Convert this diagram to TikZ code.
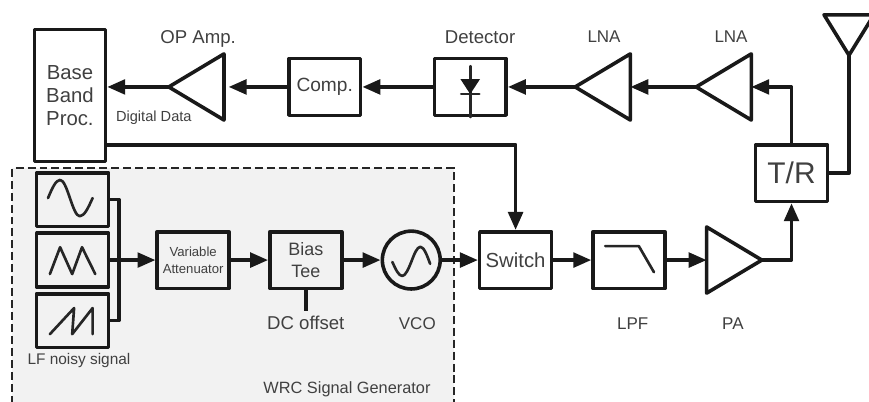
\documentclass[tikz,border=0pt]{standalone}
\usepackage{fontspec}
\setmainfont{Liberation Sans}
\usetikzlibrary{arrows.meta,shapes.geometric}

\begin{document}
\begin{tikzpicture}[>={Triangle[length=13.5pt,width=11pt]}, node distance = 2cm]
    \tikzstyle{block}=[draw=black!90,line width=2.7pt,line join=round,shape=rectangle,inner sep=0pt,minimum width=1.9cm,minimum height=1.5cm,text=black!75,align=center];
    \tikzstyle{amp}=[draw=black!90,line width=2.7pt,line join=round,shape=isosceles triangle,isosceles triangle stretches,shape border rotate=180,inner sep=0pt,outer sep=0pt,minimum width=1.75cm,minimum height=1.46cm];
    \tikzstyle{lab}=[text=black!75,inner sep=0pt,font=\fontsize{14}{16}\selectfont];
    \tikzstyle{wire}=[draw=black!90,line width=2.7pt,line join=round];
    \tikzstyle{wave}=[draw=black!85,line width=2pt,line cap=round,line join=round];

    \clip (0,0) rectangle (22.99,-10.61);

    % generator area, open at the bottom
    \path[fill=black!5] (0.32,-11) |- (12.01,-4.45) -- (12.01,-11) -- cycle;
    \draw[black!85,line width=1.7pt,dash pattern=on 6pt off 3pt] (0.32,-11) |- (12.01,-4.45) -- (12.01,-11);

    % receive chain
    \node[block,minimum width=1.88cm,minimum height=3.49cm,font=\fontsize{15.3}{17.6}\selectfont] (bbp) at (1.85,-2.53) {Base\\Band\\Proc.};
    \node[block,font=\fontsize{14.4}{16}\selectfont] (comp) at (8.59,-2.30) {Comp.};
    \node[amp] (opamp) [left of=comp,node distance=3.16cm] {};
    \node[block] (det) [right of=comp,node distance=3.85cm] {};
    \node[amp] (lna1) [right of=det,node distance=3.74cm] {};
    \node[amp] (lna2) [right of=lna1,node distance=3.2cm] {};

    % transmit chain
    \node[block,font=\fontsize{9.9}{12.5}\selectfont] (atten) at (5.11,-6.88) {Variable\\Attenuator};
    \node[block,font=\fontsize{13.5}{17}\selectfont] (bias) [right of=atten,node distance=2.98cm] {Bias\\Tee};
    \node[draw=black!90,line width=2.7pt,shape=circle,inner sep=0pt,minimum size=1.53cm] (vco) [right of=bias,node distance=2.79cm] {};
    \node[block,font=\fontsize{15.3}{17}\selectfont] (sw) [right of=vco,node distance=2.76cm] {Switch};
    \node[block] (lpf) [right of=sw,node distance=3cm] {};
    \node[amp,shape border rotate=0] (pa) [right of=lpf,node distance=2.55cm] {};
    \node[block,font=\fontsize{22.5}{24}\selectfont] (tr) at (20.94,-4.58) {T/R};
    \node[amp,shape border rotate=270,minimum width=1.32cm,minimum height=1.07cm] (ant) at (22.46,-0.76) {};

    % low frequency sources
    \node[block,minimum height=1.42cm] (tri) [left of=atten,node distance=3.19cm] {};
    \node[block,minimum height=1.42cm] (sine) [above of=tri,node distance=1.6cm] {};
    \node[block,minimum height=1.42cm] (saw) [below of=tri,node distance=1.6cm] {};
    \coordinate (bus) at (3.15,-6.88);
    \coordinate (bbpout) at ([yshift=-1.3cm]bbp.east);
    \coordinate (dcend) at ([yshift=-0.56cm]bias.south);

    % labels
    \node[lab] (lopamp) [above of=opamp,node distance=1.27cm,xshift=-0.19cm] {OP Amp.};
    \node[lab] (ldet) [above of=det,node distance=1.32cm,xshift=0.26cm] {Detector};
    \node[lab,font=\fontsize{12.8}{14}\selectfont] (llna1) [above of=lna1,node distance=1.32cm,xshift=-0.2cm] {LNA};
    \node[lab,font=\fontsize{12.8}{14}\selectfont] (llna2) [above of=lna2,node distance=1.32cm,xshift=-0.04cm] {LNA};
    \node[lab,font=\fontsize{11}{13}\selectfont] (ldata) at (4.07,-3.12) {Digital Data};
    \node[lab,font=\fontsize{11.6}{13}\selectfont] (lnoise) [below of=saw,node distance=1.07cm,xshift=0.17cm] {LF noisy signal};
    \node[lab] (ldc) [below of=bias,node distance=1.67cm] {DC offset};
    \node[lab,font=\fontsize{12.8}{14}\selectfont] (lvco) [below of=vco,node distance=1.67cm,xshift=0.16cm] {VCO};
    \node[lab,font=\fontsize{12.8}{14}\selectfont] (llpf) [below of=lpf,node distance=1.67cm,xshift=0.1cm] {LPF};
    \node[lab,font=\fontsize{12.8}{14}\selectfont] (lpa) [below of=pa,node distance=1.67cm,xshift=0.2cm] {PA};
    \node[lab,font=\fontsize{12.3}{14}\selectfont] (lwrc) at (9.18,-10.29) {WRC Signal Generator};

    % connections
    \draw[wire,->] (opamp.apex) -- (bbp.east |- opamp.apex);
    \draw[wire,->,shorten >=3.5pt] (comp) -- (opamp);
    \draw[wire,->] (det) -- (comp);
    \draw[wire,->] (lna1) -- (det);
    \draw[wire,->] (lna2) -- (lna1);
    \draw[wire,->] (tr.north) |- (lna2);
    \draw[wire] (ant.apex) |- (tr.east);
    \draw[wire,->] (pa.apex) -| (tr.south);
    \draw[wire,->] (bbpout) -| (sw.north);
    \draw[wire,->] (atten) -- (bias);
    \draw[wire,->] (bias) -- (vco);
    \draw[wire,->] (vco) -- (sw);
    \draw[wire,->] (sw) -- (lpf);
    \draw[wire,->] (lpf) -- (pa);
    \draw[wire] (bias.south) -- (dcend);
    \draw[wire] (sine.east) -- (sine -| bus) -- (saw -| bus) -- (saw.east);
    \draw[wire,->] (tri.east) -- (atten);

    % symbols in the boxes
    \draw[wave] ([shift={(-0.65,0.04)}]sine.center) sin ++(0.32,0.48) cos ++(0.26,-0.48) sin ++(0.26,-0.48) cos ++(0.34,0.48);
    \draw[wave] ([shift={(-0.6,-0.37)}]tri.center) -- ++(0.27,0.71) -- ++(0.32,-0.71) -- ++(0.26,0.71) -- ++(0.35,-0.71);
    \draw[wave] ([shift={(-0.6,-0.36)}]saw.center) -- ++(0.64,0.69) -- ++(-0.05,-0.69) -- ++(0.54,0.69) -- ++(0,-0.69);
    \draw[wave] ([shift={(-0.5,-0.05)}]vco.center) sin ++(0.26,-0.37) cos ++(0.24,0.37) sin ++(0.24,0.4) cos ++(0.26,-0.45);
    \draw[wave] ([shift={(-0.63,0.37)}]lpf.center) -- ++(0.89,0) -- ++(0.4,-0.69);
    \draw[wave] ([yshift=0.55cm]det.center) -- (det.south);
    \fill[black!90] ([shift={(-0.26,0.21)}]det.center) -- ++(0.52,0) -- ++(-0.26,-0.4) -- cycle;
    \draw[wave] ([shift={(-0.24,-0.19)}]det.center) -- ++(0.48,0);
\end{tikzpicture}
\end{document}
